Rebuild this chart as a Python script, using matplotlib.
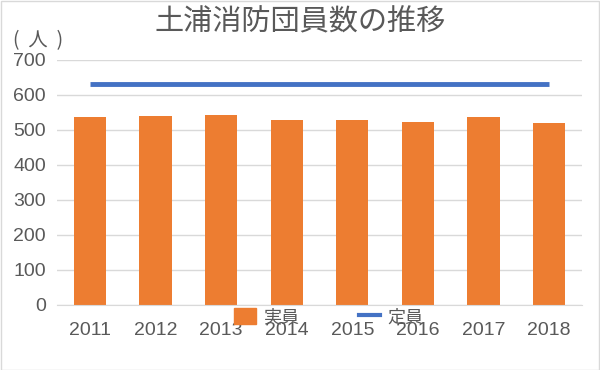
import matplotlib
matplotlib.use('Agg')
import matplotlib.pyplot as plt
from matplotlib.patches import Patch, Rectangle
from matplotlib.lines import Line2D

plt.rcParams['font.family'] = ['Liberation Sans', 'Noto Sans CJK JP', 'DejaVu Sans']

years = ['2011', '2012', '2013', '2014', '2015', '2016', '2017', '2018']
actual = [536, 541, 543, 529, 527, 523, 536, 520]
capacity = [630, 630, 630, 630, 630, 630, 630, 630]

grey = '#595959'
orange = '#ED7D31'
blue = '#4472C4'
cjk = ['Noto Sans CJK JP', 'DejaVu Sans']

fig = plt.figure(figsize=(6, 3.7), dpi=100)
ax = fig.add_axes([0.095, 0.176, 0.875, 0.662])

x = range(len(years))
ax.bar(x, actual, width=0.49, color=orange, zorder=2)
ax.plot(x, capacity, color=blue, linewidth=3.5, solid_capstyle='butt', zorder=3)

ax.set_ylim(0, 700)
ax.set_yticks(range(0, 701, 100))
ax.set_xlim(-0.5, len(years) - 0.5)
ax.set_xticks(list(x))
ax.set_xticklabels(years)
ax.yaxis.grid(True, color='#d9d9d9', linewidth=1)
ax.set_axisbelow(True)
for s in ['top', 'right', 'left']:
    ax.spines[s].set_visible(False)
ax.spines['bottom'].set_color('#d9d9d9')
ax.tick_params(axis='both', length=0, labelsize=14, colors=grey)
ax.tick_params(axis='x', pad=12)
ax.tick_params(axis='y', pad=8)

fig.text(0.5, 0.94, '土浦消防団員数の推移', ha='center', va='center',
         fontsize=21, color=grey, family=cjk)
fig.text(0.022, 0.89, '(  人  )', ha='left', va='center', fontsize=14,
         color=grey, family=cjk)

handles = [Patch(color=orange), Line2D([0], [0], color=blue, linewidth=3)]
fig.legend(handles, ['実員', '定員'], loc='center', bbox_to_anchor=(0.548, 0.143),
           ncol=2, frameon=False, prop={'family': cjk, 'size': 13}, labelcolor=grey,
           handlelength=1.2, handleheight=1.0, columnspacing=3.3, handletextpad=0.4)

fig.patches.append(Rectangle((0.001, 0.001), 0.997, 0.996, transform=fig.transFigure,
                             fill=False, edgecolor='#d9d9d9', linewidth=1))

fig.savefig('out.png', dpi=100)
